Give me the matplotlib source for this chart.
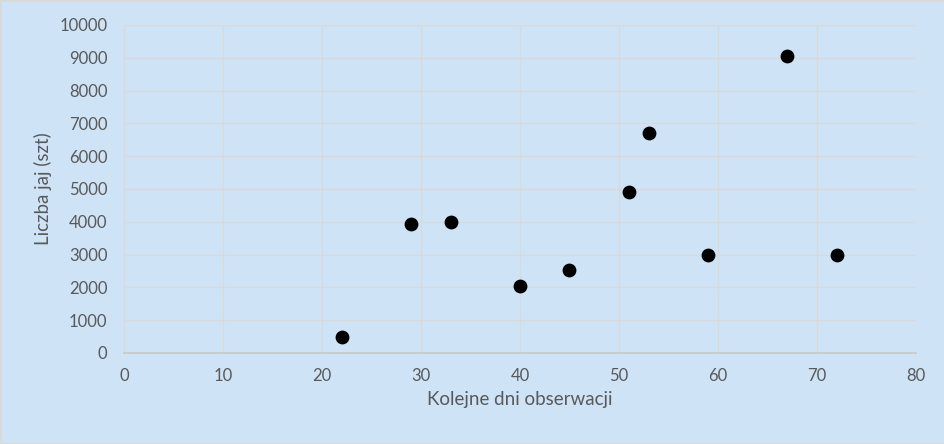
import matplotlib.pyplot as plt
from matplotlib.patches import Rectangle

days = [22, 29, 33, 40, 45, 51, 53, 59, 67, 72]
eggs = [500, 3920, 3980, 2050, 2520, 4900, 6700, 3000, 9050, 3000]

BG = '#cfe3f7'
GRID = '#d9d9d9'
TEXT = '#595959'

plt.rcParams['font.family'] = ['Lato', 'DejaVu Sans']

fig = plt.figure(figsize=(9.45, 4.44), dpi=100, facecolor=BG)
fig.patches.append(Rectangle((0, 0), 1, 1, transform=fig.transFigure,
                             fill=False, edgecolor='#d9d9d9', linewidth=2))
ax = fig.add_axes([0.1312, 0.205, 0.8381, 0.7387])
ax.set_facecolor(BG)

ax.scatter(days, eggs, s=80, color='black', zorder=3)

ax.set_xlim(0, 80)
ax.set_ylim(0, 10000)
ax.set_xticks(range(0, 81, 10))
ax.set_yticks(range(0, 10001, 1000))
ax.grid(True, color=GRID, linewidth=1)
ax.set_axisbelow(True)

for side in ['top', 'right']:
    ax.spines[side].set_visible(False)
ax.spines['left'].set_color(GRID)
ax.spines['bottom'].set_color('#c8c8c8')
ax.spines['bottom'].set_linewidth(1.2)
ax.tick_params(length=0, labelsize=12, colors=TEXT)
ax.tick_params(axis='x', pad=11)
ax.tick_params(axis='y', pad=12)

ax.set_xlabel('Kolejne dni obserwacji', fontsize=13.5, color=TEXT, labelpad=5)
ax.set_ylabel('Liczba jaj (szt)', fontsize=13.5, color=TEXT, labelpad=5)

fig.savefig('out.png', facecolor=BG)
